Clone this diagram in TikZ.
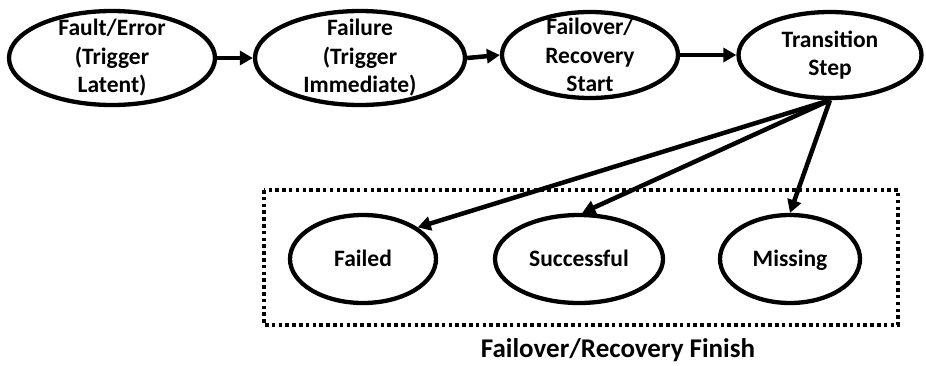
\documentclass[tikz,border=0pt]{standalone}
\usepackage{fontspec}
\setmainfont{Carlito}
\usetikzlibrary{arrows.meta,shapes.geometric}
\begin{document}
\begin{tikzpicture}[x=1pt,y=-1pt,
  state/.style={ellipse, draw, line width=4.3pt, inner sep=0pt},
  lbl/.style={font=\bfseries\fontsize{23.5}{28.5}\selectfont, align=center, inner sep=0pt},
  onelbl/.style={lbl, text height=15pt, text depth=0pt},
  flow/.style={line width=4.5pt, -{Triangle[length=13pt,width=14pt]}},
  group/.style={line width=3.5pt, dash pattern=on 3.5pt off 3.3pt},
  caption/.style={font=\bfseries\fontsize{27}{32}\selectfont, inner sep=0pt}
]
\useasboundingbox (0,0) rectangle (926,365);

% upper chain of states
\node[state, minimum width=206pt, minimum height=94pt,
  label={[lbl]center:Fault/Error\\(Trigger\\Latent)}] (fault) at (112,58) {};
\node[state, minimum width=210pt, minimum height=94pt,
  label={[lbl]center:Failure\\(Trigger\\Immediate)}] (failure) at (360,58) {};
\node[state, minimum width=176pt, minimum height=86pt,
  label={[lbl]center:Failover/\\Recovery\\Start}] (start) at (590,55) {};
\node[state, minimum width=183pt, minimum height=86pt,
  label={[lbl]center:Transition\\Step}] (step) at (830,55) {};

% outcomes
\node[state, minimum width=146pt, minimum height=88pt,
  label={[onelbl]center:Failed}] (failed) at (363,259) {};
\node[state, minimum width=168pt, minimum height=88pt,
  label={[onelbl]center:Successful}] (success) at (579,259) {};
\node[state, minimum width=140pt, minimum height=88pt,
  label={[onelbl]center:Missing}] (missing) at (790,259) {};

% group frame and its caption
\draw[group] (264,190) rectangle (898,325);
\node[caption, anchor=base] (finish) at (618,357) {Failover/Recovery Finish};

% connectors
\draw[flow] (fault) -- (failure);
\draw[flow] (failure.east) -- (start.west);
\draw[flow] (start.east) -- (step.west);
\draw[flow] (step.south) -- (failed.30);
\draw[flow] (step.south) -- (success.86);
\draw[flow] (step.south) -- (missing.north);
\end{tikzpicture}
\end{document}
